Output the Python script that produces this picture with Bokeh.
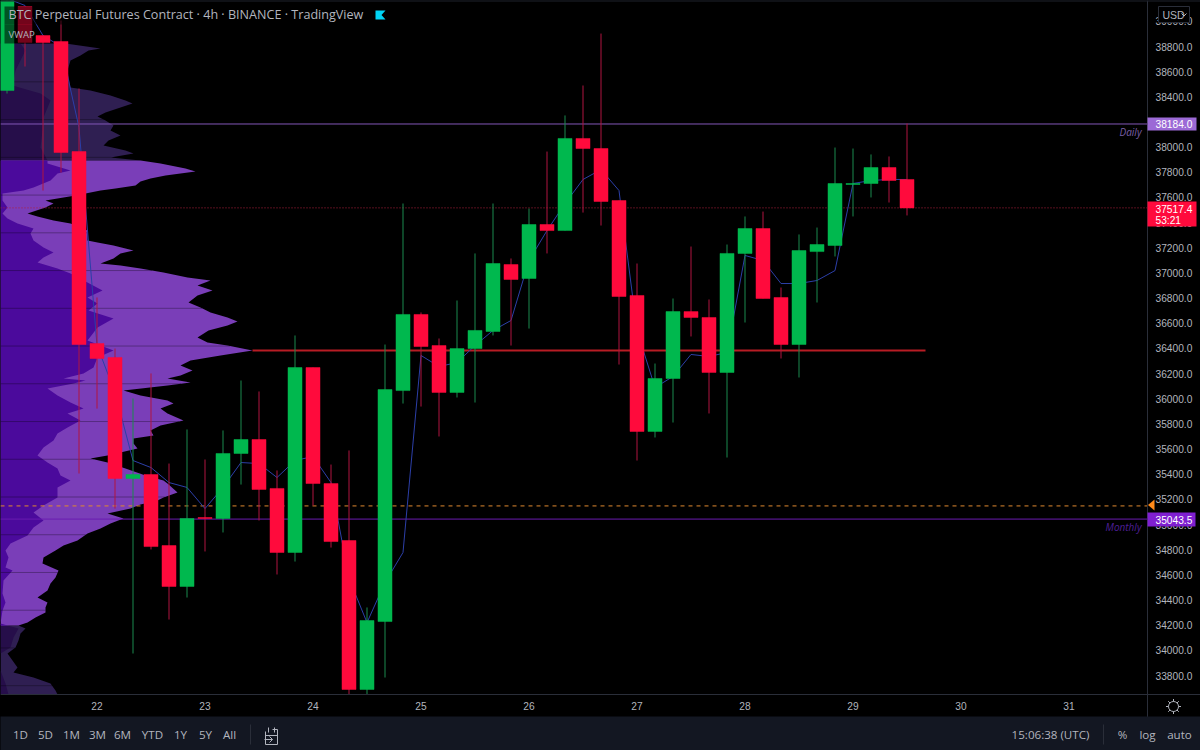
import numpy as np
from bokeh.plotting import figure
from bokeh.models import (ColumnDataSource, Range1d, FixedTicker, NumeralTickFormatter, LinearAxis)
from bokeh.core.properties import value
from bokeh.embed import file_html
from bokeh.resources import INLINE

FONT = "Open Sans"
AXFONT = "Liberation Sans"
AXSIZE = "10.2px"
TXT = "#b2b5be"

# ---- data ----------------------------------------------------------------------
bar_days = [22 + (k - 5) / 6 for k in range(51)]
opens = [38450, 39118, 38887, 38840, 37965, 36439, 36328, 35366, 35398, 34833, 34508, 35056, 35048, 35565, 35676,
         35287, 34778, 36248, 35326, 34873, 33689, 34229, 36065, 36670, 36423, 36050, 36399, 36535, 37067, 36956,
         37385, 37337, 38069, 37989, 37576, 36821, 35740, 36161, 36693, 36646, 36209, 37155, 37353, 36805, 36431,
         37170, 37218, 37703, 37711, 37838, 37743]
closes = [39166, 38832, 38832, 37957, 36431, 36320, 35366, 35398, 34825, 34508, 35048, 35048, 35565, 35676, 35279,
          34778, 36248, 35326, 34865, 33689, 34237, 36073, 36670, 36415, 36050, 36399, 36543, 37075, 36948, 37385,
          37337, 38069, 37989, 37568, 36813, 35740, 36161, 36693, 36646, 36209, 37155, 37353, 36797, 36431, 37178,
          37226, 37711, 37711, 37838, 37735, 37517]
highs = [39166, 39118, 38887, 39007, 38466, 36805, 36399, 36002, 36201, 35485, 35756, 35517, 35748, 36145, 36058,
         35430, 36503, 36248, 35477, 35589, 34341, 36431, 37552, 36686, 36479, 36781, 37155, 37552, 37115, 37512,
         37965, 38252, 38490, 38903, 37576, 37075, 36280, 36797, 37210, 36789, 37226, 37449, 37488, 36884, 37306,
         37361, 37997, 37989, 37942, 37926, 38188]
lows = [38426, 38641, 37655, 37798, 35406, 35922, 35127, 33975, 34802, 34245, 34420, 34786, 34937, 35318, 35032,
        34603, 34706, 35151, 34817, 33649, 33649, 33784, 35962, 35938, 35700, 36010, 35970, 36503, 36423, 36558,
        37155, 37337, 37480, 37377, 36272, 35509, 35692, 35811, 36495, 35883, 35533, 36606, 36797, 36320, 36169,
        36765, 37131, 37449, 37600, 37560, 37457]
vwap = [39182, 39126, 38887, 38800, 38156, 36423, 36050, 35509, 35453, 35334, 35295, 35127, 35295, 35493, 35485,
        35374, 35509, 35541, 35334, 34571, 34221, 34539, 34778, 36344, 36256, 36288, 36423, 36543, 36622, 37099,
        37337, 37552, 37743, 37822, 37655, 36543, 36089, 36177, 36352, 36336, 36368, 37139, 37099, 36916, 36916,
        36940, 37019, 37711, 37735, 37743, 37743]

profile_price = [38824, 38784, 38768, 38728, 38689, 38609, 38474, 38450, 38411, 38371, 38347, 38315, 38275, 38244,
                 38212, 38172, 38132, 38093, 38053, 38013, 37973, 37950, 37918, 37894, 37870, 37830, 37806, 37775,
                 37751, 37727, 37695, 37671, 37655, 37616, 37576, 37552, 37520, 37473, 37449, 37417, 37393, 37337,
                 37258, 37242, 37218, 37178, 37155, 37115, 37075, 37059, 37035, 37003, 36964, 36940, 36900, 36860,
                 36821, 36765, 36725, 36686, 36646, 36614, 36582, 36543, 36487, 36447, 36423, 36383, 36344, 36304,
                 36264, 36224, 36185, 36161, 36129, 36105, 36065, 36026, 35986, 35962, 35922, 35883, 35827, 35787,
                 35748, 35708, 35684, 35644, 35605, 35549, 35525, 35493, 35446, 35390, 35350, 35326, 35255, 35215,
                 35191, 35159, 35127, 35088, 35048, 35008, 34968, 34929, 34873, 34833, 34794, 34738, 34690, 34635,
                 34579, 34531, 34476, 34420, 34380, 34341, 34301, 34261, 34221, 34198, 34174, 34134, 34078, 34023,
                 33975, 33919, 33864, 33824, 33784, 33736, 33681, 33649]
profile_total = [65, 100, 88, 80, 70, 67, 70, 90, 110, 125, 132, 120, 105, 97, 105, 113, 110, 120, 108, 103, 125, 133,
                 110, 140, 160, 185, 195, 165, 150, 140, 135, 115, 100, 75, 45, 53, 45, 27, 37, 53, 70, 87, 87, 97,
                 113, 133, 120, 113, 100, 120, 140, 163, 187, 210, 197, 212, 197, 188, 200, 210, 227, 237, 227, 208,
                 197, 207, 227, 252, 220, 190, 180, 192, 180, 167, 190, 167, 123, 140, 167, 173, 160, 167, 183, 160,
                 150, 153, 133, 133, 137, 107, 90, 107, 125, 145, 163, 167, 177, 163, 157, 140, 130, 107, 123, 110,
                 100, 87, 77, 63, 55, 43, 42, 58, 55, 50, 47, 37, 47, 45, 45, 35, 27, 18, 25, 20, 18, 15, 7, 12, 17,
                 13, 33, 50, 55, 57]
split_price = [38824, 38768, 38609, 38490, 38426, 38371, 38236, 38132, 37997, 37894, 37870, 37814, 37791, 37735, 37679,
               37655, 37632, 37576, 37520, 37473, 37433, 37393, 37353, 37314, 37258, 37202, 37163, 37123, 37083, 37035,
               36996, 36860, 36805, 36757, 36702, 36638, 36566, 36463, 36383, 36328, 36248, 36201, 36161, 36145, 36121,
               36081, 36026, 35970, 35922, 35883, 35827, 35772, 35724, 35668, 35612, 35549, 35493, 35446, 35390, 35350,
               35295, 35215, 35151, 35096, 35032, 34976, 34913, 34849, 34794, 34738, 34659, 34635, 34555, 34452, 34380,
               34317, 34213, 34174, 34102, 34023, 33975, 33840, 33736, 33649]
profile_split = [20, 25, 15, 12, 40, 50, 43, 42, 40, 47, 47, 70, 57, 50, 33, 23, 2, 2, 7, 2, 7, 17, 33, 30, 33, 43, 53,
                 43, 37, 57, 70, 102, 87, 97, 88, 113, 97, 87, 113, 97, 93, 83, 63, 85, 73, 47, 57, 70, 83, 67, 80, 67,
                 57, 53, 43, 37, 47, 57, 60, 70, 57, 57, 43, 33, 43, 33, 27, 10, 5, 8, 5, 12, 3, 2, 5, 2, 0, 18, 13, 10,
                 0, 0, 5, 8]
row_breaks = [38519, 38219, 37919, 37619, 37319, 37019, 36719, 36419, 36119, 35819, 35519, 35219, 34919, 34619, 34319,
              34019, 33719]

va_high, va_low = 37894, 34198
daily_level, monthly_level, poc_level, orange_level, last_price = 38184.0, 35043.5, 36383, 35148, 37517.4
price_ticks = list(range(33800, 39001, 200))
day_ticks = list(range(22, 32))

# ---- figure: the frame fills the page, the two price/time axes sit at fixed places inside it ----
W, H = 1200, 750
PX_DAY = 108.0
PX_PRICE = 7.949          # dollars per pixel
x0 = 22 - 96.5 / PX_DAY
y_top = 39165.7
AX_X, AX_Y = 1147, 694    # pixel position of price axis and time axis
p = figure(width=W, height=H, output_backend="svg", toolbar_location=None,
           x_range=Range1d(x0, x0 + W / PX_DAY), y_range=Range1d(y_top - H * PX_PRICE, y_top),
           x_axis_location=None, y_axis_location=None, min_border=0,
           background_fill_color="#000000", border_fill_color="#000000")
p.extra_x_ranges["px"] = Range1d(0, W)      # volume widths and page furniture
p.extra_y_ranges["py"] = Range1d(H, 0)      # page furniture
p.grid.visible = False
p.outline_line_color = None

yax = LinearAxis(fixed_location=x0 + AX_X / PX_DAY, ticker=FixedTicker(ticks=price_ticks),
                 formatter=NumeralTickFormatter(format="0.0"))
xax = LinearAxis(fixed_location=y_top - AX_Y * PX_PRICE, ticker=FixedTicker(ticks=day_ticks),
                 formatter=NumeralTickFormatter(format="0"))
p.add_layout(yax, "right")
p.add_layout(xax, "below")
for ax in (xax, yax):
    ax.axis_line_color = "#2a2e39"
    ax.major_tick_line_color = None
    ax.minor_tick_line_color = None
    ax.major_tick_in = 0
    ax.major_tick_out = 0
    ax.minor_tick_in = 0
    ax.minor_tick_out = 0
    ax.major_label_text_color = TXT
    ax.major_label_text_font = AXFONT
    ax.major_label_text_font_size = AXSIZE
yax.major_label_standoff = 8
xax.major_label_standoff = 7

# ---- volume profile ------------------------------------------------------------
pp, pt = np.array(profile_price, float), np.array(profile_total, float)
sp, ss = np.array(split_price, float), np.array(profile_split, float)

def area(prices, widths, lo, hi, color):
    m = (prices >= lo) & (prices <= hi)
    y = np.concatenate(([hi], prices[m], [lo]))
    x = np.interp(y, prices[::-1], widths[::-1])
    p.harea(x1=np.zeros(len(y)), x2=x, y=y, fill_color=color, x_range_name="px")

area(pp, pt, va_high, 38824, "#2f1f52")
area(sp, ss, va_high, 38824, "#260e4a")
area(pp, pt, 33649, va_low, "#2f1f52")
area(sp, ss, 33649, va_low, "#260e4a")
area(pp, pt, va_low, va_high, "#7a3eb8")
area(sp, ss, va_low, va_high, "#4b0a9c")
rb = np.array(row_breaks, float)
p.segment(x0=np.zeros(len(rb)), x1=np.interp(rb, pp[::-1], pt[::-1]), y0=rb, y1=rb, line_color="#000000",
          line_alpha=0.3, line_width=1, x_range_name="px")

# ---- horizontal levels ---------------------------------------------------------
def hline(level, x_from=0, x_to=AX_X, **kw):
    p.line(x=[x_from, x_to], y=[level, level], x_range_name="px", **kw)

hline(last_price, line_color="#b0203c", line_width=1, line_dash="1 2")
hline(daily_level, line_color="#8257b8", line_width=1)
hline(monthly_level, line_color="#6a1bb0", line_width=1)
hline(orange_level, line_color="#e08a30", line_width=1, line_dash="4 4")
hline(poc_level, x_from=252, x_to=925, line_color="#b81c24", line_width=2)

# ---- VWAP and candles ----------------------------------------------------------
p.line(x=bar_days, y=vwap, line_color="#2c3fa8", line_width=1)

rows = ColumnDataSource(dict(x=bar_days, o=opens, c=closes, h=highs, l=lows,
                             top=[max(a, b) for a, b in zip(opens, closes)],
                             bottom=[min(a, b) for a, b in zip(opens, closes)],
                             body=["#00b84e" if c >= o else "#ff0a3c" for o, c in zip(opens, closes)],
                             wick=["#1a8a4e" if c >= o else "#b01440" for o, c in zip(opens, closes)]))
p.segment(x0="x", x1="x", y0="l", y1="h", line_color="wick", line_width=1, source=rows)
p.vbar(x="x", width=14 / PX_DAY, top="top", bottom="bottom", fill_color="body", line_color="body", line_width=0.5,
       source=rows)

# ---- page furniture, drawn in pixel ranges ---------------------------------------
def box(l, r, t, b, color, level="overlay", **kw):
    return p.quad(left=[l], right=[r], top=[t], bottom=[b], fill_color=color, x_range_name="px", y_range_name="py",
                  level=level, line_alpha=kw.pop("line_alpha", 0), **kw)

def txt(s, x, y, size="12px", color=TXT, font=FONT, align="left", style="normal", level="overlay"):
    p.text(x=[x], y=[y], text=[s], x_range_name="px", y_range_name="py", text_align=align, text_baseline="middle",
           text_font=value(font), text_font_size=value(size), text_color=color, text_font_style=style, level=level)

# top edge line
box(0, W, 0, 1, "#1e222d")

# legend backing and texts
box(4, 364, 6, 24, "#000000", fill_alpha=0.55)
box(4, 34, 24, 43, "#000000", fill_alpha=0.55)
txt("BTC Perpetual Futures Contract · 4h · BINANCE · TradingView", 8, 14, "12.6px")
txt("VWAP", 8, 34, "9.5px")
p.patch(x=[375, 385, 381, 385, 375], y=[10, 10, 14.5, 19, 19], fill_color="#00d4f5", line_alpha=0,
        x_range_name="px", y_range_name="py", level="overlay")
txt("Daily", 1141, 131, "10px", "#7a5fa8", align="right", style="italic")
txt("Monthly", 1141, 526, "10px", "#4e1f96", align="right", style="italic")

# flags on the price axis
box(1147, 1196, 117, 130, "#9c6ad6")
txt("38184.0", 1155, 123.5, AXSIZE, "#ffffff", AXFONT)
box(1147, 1195, 512, 526, "#7f1fd0")
txt("35043.5", 1155, 519, AXSIZE, "#ffffff", AXFONT)
box(1147, 1196, 201, 226, "#ff0a3c")
txt("37517.4", 1155, 208, AXSIZE, "#ffffff", AXFONT)
txt("53:21", 1155, 220, AXSIZE, "#ffffff", AXFONT)
p.patch(x=[1147.5, 1154, 1154], y=[504.5, 499, 510], fill_color="#ff8a1a", line_alpha=0, x_range_name="px",
        y_range_name="py", level="overlay")
box(1158, 1189, 6, 22, "#000000", line_alpha=1, line_color="#2a2e39")
txt("USD", 1162, 14, "10.5px", TXT, AXFONT)
p.line(x=[1181, 1183.5, 1186], y=[13, 15.5, 13], line_color=TXT, x_range_name="px", y_range_name="py", level="overlay")

# gear in the axis corner
p.scatter(x=[1173], y=[706], size=15, marker="asterisk", line_color=TXT, x_range_name="px", y_range_name="py",
          level="overlay")
p.scatter(x=[1173], y=[706], size=10, marker="circle", line_color=TXT, fill_color="#000000", x_range_name="px",
          y_range_name="py", level="overlay")

# footer band
box(0, W, 716, H, "#131722")
foot_text = ["1D", "5D", "1M", "3M", "6M", "YTD", "1Y", "5Y", "All", "15:06:38 (UTC)", "%", "log", "auto"]
foot_pos = [20, 45, 71, 97, 122, 152, 180, 205, 229, 1050, 1122, 1147, 1179]
for s, x in zip(foot_text, foot_pos):
    txt(s, x, 734, "11.6px", TXT, align="center")
p.segment(x0=[250, 1103], x1=[250, 1103], y0=[724, 724], y1=[744, 744], line_color="#2a2e39", x_range_name="px",
          y_range_name="py", level="overlay")
p.multi_line(xs=[[265, 265, 277, 277, 272], [265, 277], [268, 268], [274, 274], [264, 272, 269], [272, 269]],
             ys=[[731, 744, 744, 729, 729], [735, 735], [732, 727], [732, 727], [739, 739, 742], [739, 736]],
             line_color=TXT, line_width=1, x_range_name="px", y_range_name="py", level="overlay")

html = file_html(p, INLINE)
html = html.replace("<head>", "<head><style>html,body{margin:0;padding:0;background:#000;overflow:hidden}</style>", 1)
open("out.html", "w").write(html)
